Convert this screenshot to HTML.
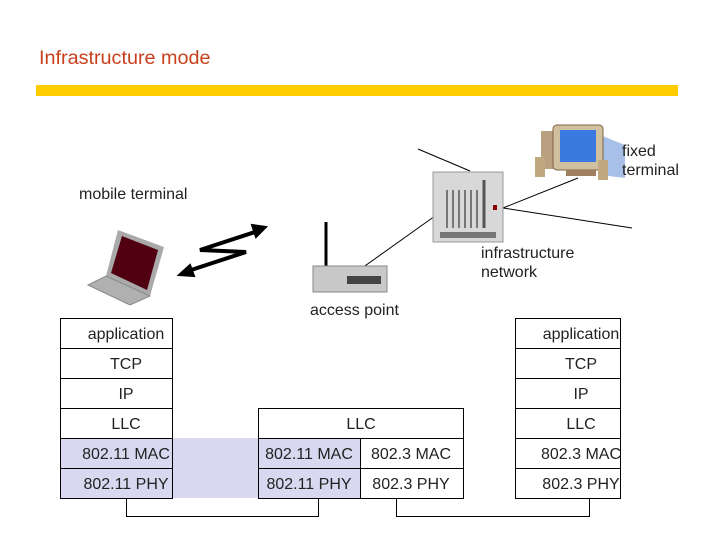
<!DOCTYPE html>
<html><head><meta charset="utf-8"><style>
body{margin:0;background:#fff;width:720px;height:540px;overflow:hidden;font-family:"Liberation Sans",sans-serif}
</style></head><body>
<svg width="720" height="540" xmlns="http://www.w3.org/2000/svg" font-family="Liberation Sans, sans-serif">
<text x="39" y="64" font-size="19.8" fill="#c8401c">Infrastructure mode</text>
<rect x="36" y="85" width="642" height="11" fill="#ffcc00"/>
<!-- lines -->
<g stroke="#000" stroke-width="1">
<line x1="418" y1="149" x2="470" y2="171"/>
<line x1="503" y1="208" x2="578" y2="178"/>
<line x1="503" y1="208" x2="632" y2="228"/>
<line x1="355" y1="273" x2="435" y2="216"/>
</g>
<!-- monitor -->
<path d="M600,135 L625,145 L625,178 L600,175Z" fill="#a8c0e8"/>
<rect x="541" y="131" width="14" height="38" fill="#b8a080"/>
<rect x="553" y="125" width="50" height="45" rx="4" fill="#d0c0a0" stroke="#806040"/>
<rect x="560" y="130" width="36" height="32" fill="#3a7ae0"/>
<rect x="566" y="170" width="30" height="6" fill="#a08060"/>
<rect x="535" y="157" width="10" height="20" fill="#c0a880"/>
<rect x="598" y="160" width="10" height="20" fill="#c0a880"/>
<g font-size="16" fill="#222">
<text x="622" y="156">fixed</text>
<text x="622" y="175">terminal</text>
</g>
<!-- server rack -->
<rect x="433" y="172" width="70" height="70" fill="#d8d8d8" stroke="#999"/>
<g stroke="#555" stroke-width="1.5">
<line x1="447" y1="190" x2="447" y2="228"/><line x1="453" y1="190" x2="453" y2="228"/>
<line x1="459" y1="190" x2="459" y2="228"/><line x1="465" y1="190" x2="465" y2="228"/>
<line x1="471" y1="190" x2="471" y2="228"/><line x1="477" y1="190" x2="477" y2="228"/>
<line x1="484" y1="180" x2="484" y2="228" stroke-width="3"/>
</g>
<rect x="493" y="205" width="4" height="5" fill="#800"/>
<rect x="440" y="232" width="56" height="6" fill="#777"/>
<g font-size="16" fill="#222">
<text x="481" y="258">infrastructure</text>
<text x="481" y="277">network</text>
<text x="310" y="315">access point</text>
<text x="79" y="199">mobile terminal</text>
</g>
<!-- access point -->
<line x1="326" y1="222" x2="326" y2="268" stroke="#000" stroke-width="3"/>
<rect x="313" y="266" width="74" height="26" fill="#c8c8c8" stroke="#888"/>
<rect x="347" y="276" width="34" height="8" fill="#444"/>
<!-- laptop -->
<path d="M118,230 L164,247 L150,296 L106,276Z" fill="#aaa"/>
<path d="M122,236 L158,250 L147,290 L111,273Z" fill="#500010"/>
<path d="M106,276 L150,296 L130,305 L88,285Z" fill="#b0b0b0" stroke="#888"/>
<!-- lightning -->
<path d="M258,231 L200,250 L246,252 L188,271" fill="none" stroke="#000" stroke-width="4"/>
<path d="M266,227 L252,225 L256,237Z" fill="#000" stroke="#000" stroke-width="2"/>
<path d="M179,275 L190,265 L194,276Z" fill="#000" stroke="#000" stroke-width="2"/>
<!-- shade -->
<rect x="60" y="438" width="199" height="60" fill="#d8d8f0"/>
<rect x="259" y="438" width="102" height="60" fill="#d8d8f0"/>
<g fill="none" stroke="#000" stroke-width="1">
<rect x="60.5" y="318.5" width="112" height="180"/>
<line x1="60" y1="348.5" x2="172" y2="348.5"/><line x1="60" y1="378.5" x2="172" y2="378.5"/>
<line x1="60" y1="408.5" x2="172" y2="408.5"/><line x1="60" y1="438.5" x2="172" y2="438.5"/><line x1="60" y1="468.5" x2="172" y2="468.5"/>
<rect x="515.5" y="318.5" width="105" height="180"/>
<line x1="515" y1="348.5" x2="620" y2="348.5"/><line x1="515" y1="378.5" x2="620" y2="378.5"/>
<line x1="515" y1="408.5" x2="620" y2="408.5"/><line x1="515" y1="438.5" x2="620" y2="438.5"/><line x1="515" y1="468.5" x2="620" y2="468.5"/>
<rect x="258.5" y="408.5" width="205" height="90"/>
<line x1="258" y1="438.5" x2="463" y2="438.5"/><line x1="258" y1="468.5" x2="463" y2="468.5"/>
<line x1="360.5" y1="438" x2="360.5" y2="498"/>
<polyline points="126.5,498 126.5,516.5 318.5,516.5 318.5,498"/>
<polyline points="396.5,498 396.5,516.5 589.5,516.5 589.5,498"/>
</g>
<g font-size="16" fill="#222" text-anchor="middle">
<text x="126" y="339">application</text><text x="126" y="369">TCP</text><text x="126" y="399">IP</text>
<text x="126" y="429">LLC</text><text x="126" y="459">802.11 MAC</text><text x="126" y="489">802.11 PHY</text>
<text x="581" y="339">application</text><text x="581" y="369">TCP</text><text x="581" y="399">IP</text>
<text x="581" y="429">LLC</text><text x="581" y="459">802.3 MAC</text><text x="581" y="489">802.3 PHY</text>
<text x="361" y="429">LLC</text>
<text x="309" y="459">802.11 MAC</text><text x="309" y="489">802.11 PHY</text>
<text x="411" y="459">802.3 MAC</text><text x="411" y="489">802.3 PHY</text>
</g>
</svg>
</body></html>
